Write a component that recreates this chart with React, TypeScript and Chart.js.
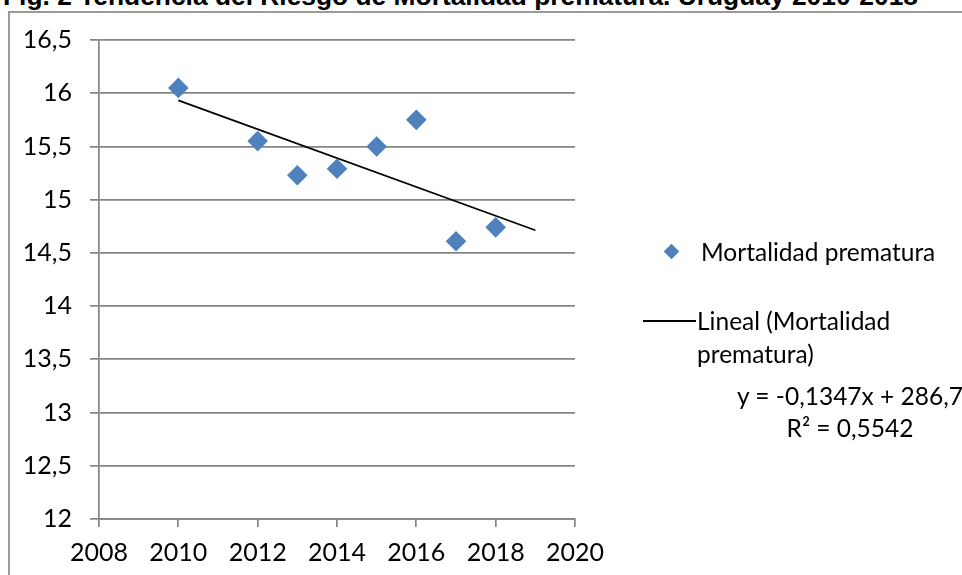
import React, { useEffect, useRef } from "react";
import { Chart, registerables } from "chart.js";

Chart.register(...registerables);

// ---- data ----
const titleText = "Fig. 2 Tendencia del Riesgo de Mortalidad prematura. Uruguay 2010-2018";
const years = [2010, 2012, 2013, 2014, 2015, 2016, 2017, 2018];
const mortality = [16.05, 15.55, 15.23, 15.29, 15.5, 15.75, 14.61, 14.74];
const trendYears = [2010, 2019];
const xRange = [2008, 2020];
const xStep = 2;
const yRange = [12, 16.5];
const yStep = 0.5;
const seriesLabel = "Mortalidad prematura";
const trendLabelLines = ["Lineal (Mortalidad", "prematura)"];
const equationText = "y = -0,1347x + 286,7";
const r2Text = "R² = 0,5542";

const FONT = "Lato, 'Open Sans', sans-serif";
const BLUE = "#4F81BD";
const GRID = "#858585";

// least-squares linear trend of the series (as the spreadsheet does)
function linearFit(xs: number[], ys: number[]) {
  const n = xs.length;
  const mx = xs.reduce((a, b) => a + b, 0) / n;
  const my = ys.reduce((a, b) => a + b, 0) / n;
  let sxy = 0;
  let sxx = 0;
  for (let i = 0; i < n; i++) {
    sxy += (xs[i] - mx) * (ys[i] - my);
    sxx += (xs[i] - mx) * (xs[i] - mx);
  }
  const slope = sxy / sxx;
  return { slope, intercept: my - slope * mx };
}

export default function App() {
  const canvasRef = useRef<HTMLCanvasElement | null>(null);
  const titleRef = useRef<HTMLDivElement | null>(null);

  useEffect(() => {
    const t = titleRef.current;
    if (t) {
      t.style.transform = "none";
      const w = t.getBoundingClientRect().width;
      if (w > 0) t.style.transform = `scaleX(${915 / w})`;
    }
    const canvas = canvasRef.current;
    if (!canvas) return;
    const points = years.map((y, i) => ({ x: y, y: mortality[i] }));
    const fit = linearFit(years, mortality);
    const trend = trendYears.map((y) => ({ x: y, y: fit.slope * y + fit.intercept }));
    const chart = new Chart(canvas, {
      type: "scatter",
      data: {
        datasets: [
          {
            label: seriesLabel,
            data: points,
            pointStyle: "rectRot",
            pointRadius: 10.3,
            pointHoverRadius: 10.3,
            backgroundColor: BLUE,
            borderColor: BLUE,
            borderWidth: 0,
            order: 1,
          },
          {
            type: "line",
            label: trendLabelLines.join(" "),
            data: trend,
            borderColor: "#000000",
            borderWidth: 1.7,
            pointRadius: 0,
            showLine: true,
            fill: false,
            order: 2,
          } as any,
        ],
      },
      options: {
        responsive: false,
        animation: false,
        events: [],
        layout: { padding: { left: 0, top: 40, right: 387, bottom: 0 } },
        plugins: { legend: { display: false }, tooltip: { enabled: false }, title: { display: false } },
        scales: {
          x: {
            type: "linear",
            min: xRange[0],
            max: xRange[1],
            afterFit: (s: any) => {
              s.height = 56;
            },
            ticks: {
              stepSize: xStep,
              padding: 11,
              color: "#000",
              font: { family: FONT, size: 25 },
              callback: (v: any) => String(v),
            },
            grid: { drawOnChartArea: false, drawTicks: true, tickLength: 8, color: GRID, lineWidth: 1.7 },
            border: { display: true, color: GRID, width: 1.7 },
          },
          y: {
            type: "linear",
            min: yRange[0],
            max: yRange[1],
            afterFit: (s: any) => {
              s.width = 99;
            },
            ticks: {
              stepSize: yStep,
              padding: 18,
              color: "#000",
              font: { family: FONT, size: 25 },
              callback: (v: any) => String(v).replace(".", ","),
            },
            grid: { drawOnChartArea: true, drawTicks: true, tickLength: 9, color: GRID, lineWidth: 1.7 },
            border: { display: true, color: GRID, width: 1.7 },
          },
        },
      },
    });
    return () => chart.destroy();
  }, []);

  const textStyle: React.CSSProperties = {
    position: "absolute",
    fontFamily: FONT,
    fontSize: 24.5,
    lineHeight: "30px",
    color: "#000",
    whiteSpace: "nowrap",
  };

  return (
    <div style={{ position: "fixed", left: 0, top: 0, width: 962, height: 575, overflow: "hidden", background: "#fff" }}>
      <div
        ref={titleRef}
        style={{
          position: "absolute",
          left: 3,
          top: -17,
          fontFamily: "'Liberation Sans', Arial, sans-serif",
          fontWeight: "bold",
          fontSize: 26,
          lineHeight: "26px",
          whiteSpace: "nowrap",
          transformOrigin: "left top",
          color: "#000",
        }}
      >
        {titleText}
      </div>
      <div
        style={{
          position: "absolute",
          left: 8,
          top: 11,
          width: 980,
          height: 600,
          borderLeft: "2px solid #9a9a9a",
          borderTop: "2px solid #9a9a9a",
        }}
      />
      <canvas ref={canvasRef} width={962} height={575} style={{ position: "absolute", left: 0, top: 0, width: 962, height: 575 }} />
      <div
        style={{
          position: "absolute",
          left: 666,
          top: 246,
          width: 11,
          height: 11,
          background: BLUE,
          transform: "rotate(45deg)",
        }}
      />
      <div style={{ ...textStyle, left: 701, top: 252 - 15 }}>{seriesLabel}</div>
      <div style={{ position: "absolute", left: 643, top: 320, width: 53, height: 1.7, background: "#000" }} />
      <div style={{ ...textStyle, left: 697, top: 321 - 15 }}>{trendLabelLines[0]}</div>
      <div style={{ ...textStyle, left: 697, top: 354 - 15 }}>{trendLabelLines[1]}</div>
      <div style={{ ...textStyle, left: 700, width: 300, textAlign: "center", top: 396 - 15 }}>{equationText}</div>
      <div style={{ ...textStyle, left: 700, width: 300, textAlign: "center", top: 428 - 15 }}>{r2Text}</div>
    </div>
  );
}
